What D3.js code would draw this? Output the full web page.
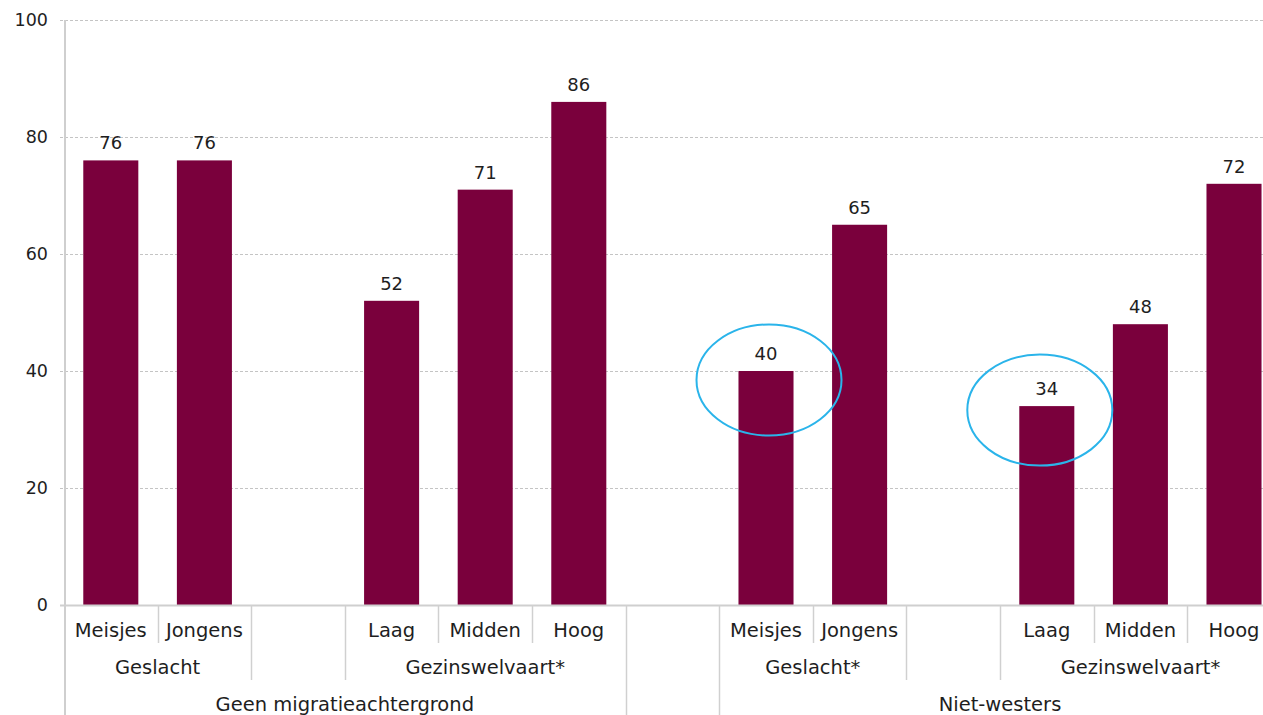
<!DOCTYPE html>
<html>
<head>
<meta charset="utf-8">
<script src="https://cdn.jsdelivr.net/npm/d3@7"></script>
<style>
  body { margin: 0; background: #fff; }
  svg { display: block; font-family: "DejaVu Sans", Verdana, sans-serif; }
</style>
</head>
<body>
<svg id="chart" width="1263" height="715"></svg>
<script>
// data
var categories = ["Meisjes", "Jongens", "", "Laag", "Midden", "Hoog", "",
                  "Meisjes", "Jongens", "", "Laag", "Midden", "Hoog"];
var values = [76, 76, null, 52, 71, 86, null, 40, 65, null, 34, 48, 72];
var subgroups = ["Geslacht", "", "Gezinswelvaart*", "", "Geslacht*", "", "Gezinswelvaart*"];
var subgroupSpans = [2, 1, 3, 1, 2, 1, 3];
var groups = ["Geen migratieachtergrond", "", "Niet-westers"];
var groupSpans = [6, 1, 6];
var tickVals = [0, 20, 40, 60, 80, 100];
var highlighted = [7, 10]; // circled bars

var svg = d3.select("#chart");
var textColor = "#1e1e1e";

//scales
var slot = d3.scaleBand()
             .domain(d3.range(categories.length))
             .range([64, 1280.8])
             .padding(0);
var yScale = d3.scaleLinear()
               .domain([0, 100])
               .range([605, 20]);
var barW = slot.bandwidth() * 0.588;

//gridlines
svg.append("g")
   .attr("id", "grid")
   .selectAll("line")
   .data(tickVals.filter(function(d){ return d > 0; }))
   .enter()
   .append("line")
   .attr("x1", 60)
   .attr("x2", 1263)
   .attr("y1", function(d){ return yScale(d) + 0.5; })
   .attr("y2", function(d){ return yScale(d) + 0.5; })
   .attr("stroke", "#c4c4c4")
   .attr("stroke-dasharray", "3,2");

//y axis
var yAxis = d3.axisLeft(yScale)
              .tickValues(tickVals)
              .tickSize(0)
              .tickPadding(17);
var yx = svg.append("g")
            .attr("id", "yaxis")
            .attr("transform", "translate(65, 0)")
            .call(yAxis);
yx.select(".domain").remove();
yx.selectAll("text")
  .attr("font-size", 17.5)
  .attr("fill", textColor)
  .attr("font-family", "DejaVu Sans, sans-serif");

//bars
var barData = values.map(function(v, i){ return {i: i, v: v}; })
                    .filter(function(d){ return d.v !== null; });
svg.append("g")
   .attr("id", "bars")
   .selectAll("rect")
   .data(barData)
   .enter()
   .append("rect")
   .attr("x", function(d){ return slot(d.i) + (slot.bandwidth() - barW) / 2; })
   .attr("y", function(d){ return yScale(d.v); })
   .attr("width", barW)
   .attr("height", function(d){ return yScale(0) - yScale(d.v); })
   .attr("fill", "#7a003c");

//value labels
svg.append("g")
   .attr("id", "labels")
   .selectAll("text")
   .data(barData)
   .enter()
   .append("text")
   .attr("x", function(d){ return slot(d.i) + slot.bandwidth() / 2; })
   .attr("y", function(d){ return yScale(d.v) - 11; })
   .attr("text-anchor", "middle")
   .attr("font-size", 18)
   .attr("fill", textColor)
   .text(function(d){ return d.v; });

//zero line and y axis line
svg.append("line")
   .attr("x1", 60).attr("x2", 1263)
   .attr("y1", yScale(0) + 0.5).attr("y2", yScale(0) + 0.5)
   .attr("stroke", "#cfcfcf").attr("stroke-width", 2);
svg.append("line")
   .attr("x1", 65).attr("x2", 65)
   .attr("y1", yScale(100)).attr("y2", 715)
   .attr("stroke", "#cfcfcf").attr("stroke-width", 2);

//category separators, length depends on level
function boundaries(spans){
  var out = [], s = 0;
  spans.forEach(function(n){ s += n; out.push(s); });
  return out;
}
var subB = boundaries(subgroupSpans);
var grpB = boundaries(groupSpans);
svg.append("g")
   .attr("id", "separators")
   .selectAll("line")
   .data(d3.range(1, categories.length))
   .enter()
   .append("line")
   .attr("x1", function(i){ return Math.round(slot(i)) + 0.5; })
   .attr("x2", function(i){ return Math.round(slot(i)) + 0.5; })
   .attr("y1", yScale(0))
   .attr("y2", function(i){
      if (grpB.indexOf(i) >= 0) return 715;
      if (subB.indexOf(i) >= 0) return 680;
      return 643;
   })
   .attr("stroke", "#d0d0d0")
   .attr("stroke-width", 1.5);

//category labels (3 levels)
svg.append("g")
   .attr("id", "cat1")
   .selectAll("text")
   .data(categories)
   .enter()
   .append("text")
   .attr("x", function(d, i){ return slot(i) + slot.bandwidth() / 2; })
   .attr("y", 637)
   .attr("text-anchor", "middle")
   .attr("font-size", 19.5)
   .attr("fill", textColor)
   .text(function(d){ return d; });

function spanLabels(id, names, spans, y){
  var start = 0;
  var items = names.map(function(n, k){
    var o = {name: n, from: start, to: start + spans[k]};
    start += spans[k];
    return o;
  });
  svg.append("g")
     .attr("id", id)
     .selectAll("text")
     .data(items)
     .enter()
     .append("text")
     .attr("x", function(d){
        return (slot(d.from) + slot(d.to - 1) + slot.bandwidth()) / 2;
     })
     .attr("y", y)
     .attr("text-anchor", "middle")
     .attr("font-size", 19.5)
     .attr("fill", textColor)
     .text(function(d){ return d.name; });
}
spanLabels("cat2", subgroups, subgroupSpans, 674);
spanLabels("cat3", groups, groupSpans, 711);

//highlight ellipses
svg.append("g")
   .attr("id", "highlights")
   .selectAll("ellipse")
   .data(highlighted)
   .enter()
   .append("ellipse")
   .attr("cx", function(i){ return slot(i) + slot.bandwidth() / 2 + (i == 7 ? 3 : -7); })
   .attr("cy", function(i){ return yScale(values[i]) + (i == 7 ? 9 : 4); })
   .attr("rx", 72.5)
   .attr("ry", 55.5)
   .attr("fill", "none")
   .attr("stroke", "#2ab4ea")
   .attr("stroke-width", 2);
</script>
</body>
</html>
